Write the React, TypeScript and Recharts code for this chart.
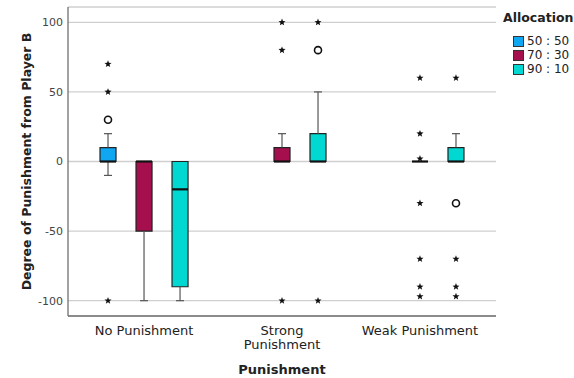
import React from 'react';
import {
  ScatterChart,
  Scatter,
  XAxis,
  YAxis,
  CartesianGrid,
  ReferenceArea,
  ReferenceLine,
} from 'recharts';

// punishment groups on the x axis ('\n' = SPSS line break)
const groups = ['No Punishment', 'Strong\nPunishment', 'Weak Punishment'];
const allocations = ['50 : 50', '70 : 30', '90 : 10'];
const colors = ['#0FA6F2', '#A60F4E', '#00D8D1'];
const yTicks = [-100, -50, 0, 50, 100];

// box stats, one value per punishment group (null = no cases)
const lower5050 = [-10, null, null];
const q1_5050 = [0, null, null];
const median5050 = [0, null, null];
const q3_5050 = [10, null, null];
const upper5050 = [20, null, null];

const lower7030 = [-100, 0, 0];
const q1_7030 = [-50, 0, 0];
const median7030 = [0, 0, 0];
const q3_7030 = [0, 10, 0];
const upper7030 = [0, 20, 0];

const lower9010 = [-100, 0, 0];
const q1_9010 = [-90, 0, 0];
const median9010 = [-20, 0, 0];
const q3_9010 = [0, 20, 10];
const upper9010 = [0, 50, 20];

// outliers: extremes (*) and mild (o)
const stars5050 = [[70, 50, -100], [], []];
const circles5050 = [[30], [], []];
const stars7030 = [[], [100, 80, -100], [60, 20, 2, -30, -70, -90, -97]];
const circles7030 = [[], [], []];
const stars9010 = [[], [100, -100], [60, -70, -90, -97]];
const circles9010 = [[], [80], [-30]];

const series = [
  { lower: lower5050, q1: q1_5050, median: median5050, q3: q3_5050, upper: upper5050, stars: stars5050, circles: circles5050 },
  { lower: lower7030, q1: q1_7030, median: median7030, q3: q3_7030, upper: upper7030, stars: stars7030, circles: circles7030 },
  { lower: lower9010, q1: q1_9010, median: median9010, q3: q3_9010, upper: upper9010, stars: stars9010, circles: circles9010 },
];

const OFFSET = 0.261;
const BOX_HALF = 0.058;
const CAP_HALF = 0.029;
const FONT = '"DejaVu Sans", sans-serif';

const boxes: any[] = [];
const starPts: any[] = [];
const circlePts: any[] = [];
series.forEach((s, si) => {
  groups.forEach((_, g) => {
    const cx = g + (si - 1) * OFFSET;
    if (s.q1[g] !== null) {
      boxes.push({
        key: `${si}-${g}`,
        cx,
        color: colors[si],
        lower: s.lower[g],
        q1: s.q1[g],
        median: s.median[g],
        q3: s.q3[g],
        upper: s.upper[g],
      });
    }
    s.stars[g].forEach((v) => starPts.push({ x: cx, y: v }));
    s.circles[g].forEach((v) => circlePts.push({ x: cx, y: v }));
  });
});

const Star = (props: any) => {
  const { cx, cy } = props;
  const pts: string[] = [];
  for (let i = 0; i < 10; i++) {
    const r = i % 2 === 0 ? 3.7 : 1.6;
    const a = -Math.PI / 2 + (i * Math.PI) / 5;
    pts.push(`${cx + r * Math.cos(a)},${cy + r * Math.sin(a)}`);
  }
  return <polygon points={pts.join(' ')} fill="#111" />;
};

const Ring = (props: any) => (
  <circle cx={props.cx} cy={props.cy} r={3.5} fill="#fff" stroke="#111" strokeWidth={1.6} />
);

const GroupTick = (props: any) => {
  const { x, y, payload } = props;
  const lines = groups[payload.value].split('\n');
  return (
    <text x={x} y={y + 11} textAnchor="middle" fontSize={13} fontFamily={FONT} fill="#222">
      {lines.map((l, i) => (
        <tspan key={i} x={x} dy={i === 0 ? 0 : 13.5}>
          {l}
        </tspan>
      ))}
    </text>
  );
};

export default function App() {
  return (
    <div style={{ position: 'absolute', left: 0, top: 0, width: 574, height: 378, background: '#fff' }}>
      <ScatterChart width={574} height={378} margin={{ top: 7, right: 78, bottom: 0, left: 8 }}>
        <CartesianGrid vertical={false} stroke="#cfcfcf" strokeWidth={1.3} />
        <XAxis
          type="number"
          dataKey="x"
          domain={[-0.551, 2.551]}
          ticks={[0, 1, 2]}
          interval={0}
          tickLine={false}
          axisLine={{ stroke: '#707070', strokeWidth: 1.3 }}
          tick={<GroupTick />}
          height={62}
          label={{
            value: 'Punishment',
            position: 'insideBottom',
            offset: 4,
            style: { fontFamily: FONT, fontSize: 13, fontWeight: 'bold', fill: '#222' },
          }}
        />
        <YAxis
          type="number"
          dataKey="y"
          domain={[-111, 111]}
          ticks={yTicks}
          width={60}
          tickLine={false}
          axisLine={{ stroke: '#707070', strokeWidth: 1.3 }}
          tick={{ fontSize: 11, fontFamily: FONT, fill: '#444', dx: 3 }}
          label={{
            value: 'Degree of Punishment from Player B',
            angle: -90,
            position: 'insideLeft',
            offset: 19,
            style: { textAnchor: 'middle', fontFamily: FONT, fontSize: 12.5, fontWeight: 'bold', fill: '#222' },
          }}
        />
        {boxes.map((b) =>
          b.upper > b.q3 ? (
            <ReferenceLine
              key={`wu${b.key}`}
              segment={[{ x: b.cx, y: b.q3 }, { x: b.cx, y: b.upper }]}
              stroke="#555"
              strokeWidth={1.2}
            />
          ) : null
        )}
        {boxes.map((b) =>
          b.upper > b.q3 ? (
            <ReferenceLine
              key={`cu${b.key}`}
              segment={[{ x: b.cx - CAP_HALF, y: b.upper }, { x: b.cx + CAP_HALF, y: b.upper }]}
              stroke="#555"
              strokeWidth={1.2}
            />
          ) : null
        )}
        {boxes.map((b) =>
          b.lower < b.q1 ? (
            <ReferenceLine
              key={`wl${b.key}`}
              segment={[{ x: b.cx, y: b.lower }, { x: b.cx, y: b.q1 }]}
              stroke="#555"
              strokeWidth={1.2}
            />
          ) : null
        )}
        {boxes.map((b) =>
          b.lower < b.q1 ? (
            <ReferenceLine
              key={`cl${b.key}`}
              segment={[{ x: b.cx - CAP_HALF, y: b.lower }, { x: b.cx + CAP_HALF, y: b.lower }]}
              stroke="#555"
              strokeWidth={1.2}
            />
          ) : null
        )}
        {boxes.map((b) =>
          b.q3 > b.q1 ? (
            <ReferenceArea
              key={`box${b.key}`}
              x1={b.cx - BOX_HALF}
              x2={b.cx + BOX_HALF}
              y1={b.q1}
              y2={b.q3}
              fill={b.color}
              fillOpacity={1}
              stroke="#222"
              strokeWidth={1.2}
            />
          ) : null
        )}
        {boxes.map((b) => (
          <ReferenceLine
            key={`med${b.key}`}
            segment={[{ x: b.cx - BOX_HALF, y: b.median }, { x: b.cx + BOX_HALF, y: b.median }]}
            stroke="#111"
            strokeWidth={2.2}
          />
        ))}
        <Scatter data={starPts} shape={<Star />} isAnimationActive={false} />
        <Scatter data={circlePts} shape={<Ring />} isAnimationActive={false} />
      </ScatterChart>
      <div style={{ position: 'absolute', left: 503, top: 10, fontFamily: FONT, color: '#222' }}>
        <div style={{ fontSize: 12.5, fontWeight: 'bold', lineHeight: '16px' }}>Allocation</div>
        <div style={{ marginTop: 8, marginLeft: 10 }}>
          {allocations.map((a, i) => (
            <div key={a} style={{ display: 'flex', alignItems: 'center', height: 14, fontSize: 12 }}>
              <span
                style={{
                  width: 9,
                  height: 9,
                  background: colors[i],
                  border: '1px solid #333',
                  marginRight: 3,
                  display: 'inline-block',
                }}
              />
              {a}
            </div>
          ))}
        </div>
      </div>
    </div>
  );
}
